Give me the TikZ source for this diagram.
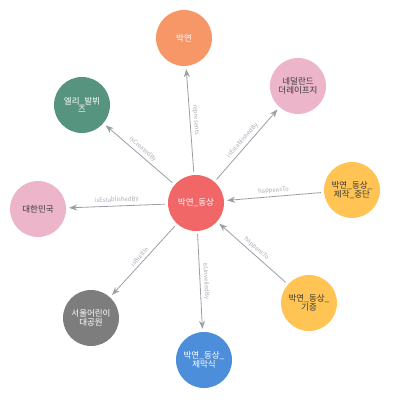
\documentclass[tikz,border=0pt]{standalone}
\usepackage{fontspec}
\setmainfont{Noto Sans CJK KR}
\usetikzlibrary{arrows.meta}
\definecolor{corange}{HTML}{F79767}
\definecolor{cpink}{HTML}{ECB5C9}
\definecolor{cgreen}{HTML}{569480}
\definecolor{cred}{HTML}{F16667}
\definecolor{cyellow}{HTML}{FFC454}
\definecolor{cgray}{HTML}{7D7D7D}
\definecolor{cblue}{HTML}{4C8EDA}
\definecolor{cline}{HTML}{9A9EA6}
\definecolor{clbl}{HTML}{A8ACB2}
\definecolor{cdark}{HTML}{3A3A3A}
\begin{document}
\begin{tikzpicture}[x=1pt,y=-1pt,
  ent/.style={circle, minimum size=56pt, inner sep=0pt, align=center, font=\fontsize{8.5}{8.5}\selectfont},
  lightent/.style={ent, text=white},
  darkent/.style={ent, text=cdark},
  rel/.style={draw=cline, line width=0.8pt, -{Stealth[length=8pt,width=6pt]}, shorten >=3pt, shorten <=3pt},
  lbl/.style={sloped, above=1.5pt, midway, font=\fontsize{6}{6}\selectfont, text=clbl, inner sep=1pt}]
\useasboundingbox (0,0) rectangle (400,406);
\node[lightent, fill=cred] (c) at (196,203) {박연\_동상};
\node[lightent, fill=corange] (a1) at (184,38) {박연};
\node[darkent, fill=cpink] (a2) at (298,86) {네덜란드\\더레이프지};
\node[lightent, fill=cgreen] (a3) at (82,105) {엘리\_발뷔\\즈};
\node[darkent, fill=cpink] (a4) at (38,209) {대한민국};
\node[darkent, fill=cyellow] (a5) at (352,190) {박연\_동상\_\\제작\_중단};
\node[lightent, fill=cgray] (a6) at (91,318) {서울어린이\\대공원};
\node[lightent, fill=cblue] (a7) at (204,360) {박연\_동상\_\\제막식};
\node[darkent, fill=cyellow] (a8) at (309,303) {박연\_동상\_\\기증};
\draw[rel] (c) -- node[lbl] {represents} (a1);
\draw[rel] (c) -- node[lbl] {isEstablishedBy} (a2);
\draw[rel] (c) -- node[lbl] {isCreatedBy} (a3);
\draw[rel] (c) -- node[lbl] {isEstablishedBy} (a4);
\draw[rel] (a5) -- node[lbl] {happensTo} (c);
\draw[rel] (c) -- node[lbl] {isBuiltIn} (a6);
\draw[rel] (c) -- node[lbl] {isUnveiledBy} (a7);
\draw[rel] (a8) -- node[lbl] {happensTo} (c);
\end{tikzpicture}
\end{document}
